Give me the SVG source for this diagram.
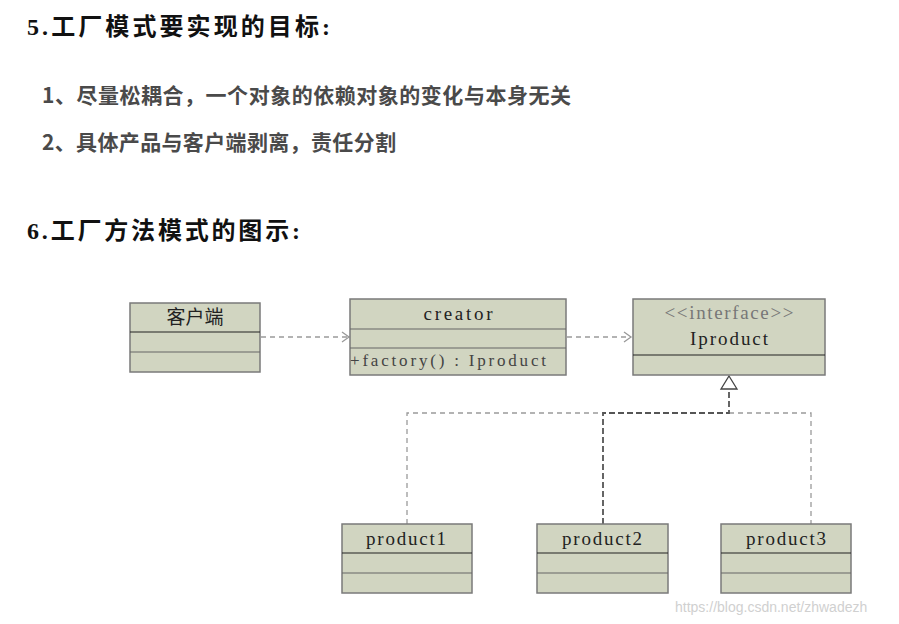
<svg xmlns="http://www.w3.org/2000/svg" width="899" height="624" viewBox="0 0 899 624">
<style>
.h{font-family:"Liberation Serif","Noto Sans CJK SC",serif;font-size:24px;font-weight:bold;fill:#111}
.p{font-family:"Noto Sans CJK SC",sans-serif;font-size:21px;font-weight:bold;fill:#4a4a4a}
.box{fill:#d1d5c1;stroke:#7a7a7a;stroke-width:1.5}
.d1{stroke:#222;stroke-width:1.2}
.d2{stroke:#666;stroke-width:1.2}
.t{font-family:"Liberation Serif","Noto Sans CJK SC",serif;font-size:19px;fill:#222;text-anchor:middle}
.c{font-family:"Noto Sans CJK SC",sans-serif;font-size:19px;fill:#222;text-anchor:middle}
.dash{fill:none;stroke:#9a9a9a;stroke-width:1.3;stroke-dasharray:5 4}
.dk{fill:none;stroke:#555;stroke-width:1.8;stroke-dasharray:6 3}
.wm{font-family:"Liberation Sans",Arial,sans-serif;font-size:14px;fill:#d0d0d0}
</style>
<defs>
<marker id="open" markerWidth="10" markerHeight="12" refX="8" refY="6" orient="auto" markerUnits="userSpaceOnUse">
<path d="M1,1 L8,6 L1,11" fill="none" stroke="#999" stroke-width="1.3"/>
</marker>
</defs>
<rect width="899" height="624" fill="#fff"/>
<text class="h" x="27" y="35" textLength="303" lengthAdjust="spacing">5.工厂模式要实现的目标:</text>
<text class="p" x="42" y="103" textLength="529" lengthAdjust="spacing">1、尽量松耦合，一个对象的依赖对象的变化与本身无关</text>
<text class="p" x="42" y="150" textLength="354" lengthAdjust="spacing">2、具体产品与客户端剥离，责任分割</text>
<text class="h" x="27" y="239" textLength="273" lengthAdjust="spacing">6.工厂方法模式的图示:</text>

<g id="connectors">
<line class="dash" x1="261" y1="337" x2="349" y2="337" marker-end="url(#open)"/>
<line class="dash" x1="567" y1="337" x2="631" y2="337" marker-end="url(#open)"/>
<polyline class="dash" points="407,524 407,413 603,413"/>
<polyline class="dash" points="729,413 811,413 811,524"/>
<polyline class="dk" points="603,524 603,413 729,413 729,389"/>
<path d="M729,376 L737,389 L721,389 Z" fill="#fff" stroke="#444" stroke-width="1.3"/>
</g>

<g id="client">
<rect class="box" x="130" y="303" width="130" height="69"/>
<line class="d1" x1="130" y1="332" x2="260" y2="332"/>
<line class="d2" x1="130" y1="352" x2="260" y2="352"/>
<text class="c" x="195" y="324">客户端</text>
</g>

<g id="creator">
<rect class="box" x="350" y="299" width="216" height="76"/>
<line class="d2" x1="350" y1="329" x2="566" y2="329"/>
<line class="d2" x1="350" y1="348" x2="566" y2="348"/>
<text class="t" x="458" y="320" textLength="69" lengthAdjust="spacing">creator</text>
<text class="t" x="350" y="366" style="text-anchor:start;font-size:17px;fill:#444" textLength="196" lengthAdjust="spacing">+factory() : Iproduct</text>
</g>

<g id="iproduct">
<rect class="box" x="633" y="299" width="192" height="76"/>
<line class="d1" x1="633" y1="355" x2="825" y2="355"/>
<text class="t" x="729" y="319" style="fill:#777" textLength="129" lengthAdjust="spacing">&lt;&lt;interface&gt;&gt;</text>
<text class="t" x="729" y="345" textLength="78" lengthAdjust="spacing">Iproduct</text>
</g>

<g id="product1">
<rect class="box" x="342" y="524" width="130" height="69"/>
<line class="d1" x1="342" y1="553" x2="472" y2="553"/>
<line class="d2" x1="342" y1="573" x2="472" y2="573"/>
<text class="t" x="406" y="545" textLength="80" lengthAdjust="spacing">product1</text>
</g>

<g id="product2">
<rect class="box" x="537" y="524" width="131" height="69"/>
<line class="d1" x1="537" y1="553" x2="668" y2="553"/>
<line class="d2" x1="537" y1="573" x2="668" y2="573"/>
<text class="t" x="602" y="545" textLength="80" lengthAdjust="spacing">product2</text>
</g>

<g id="product3">
<rect class="box" x="721" y="524" width="130" height="69"/>
<line class="d1" x1="721" y1="553" x2="851" y2="553"/>
<line class="d2" x1="721" y1="573" x2="851" y2="573"/>
<text class="t" x="786" y="545" textLength="80" lengthAdjust="spacing">product3</text>
</g>

<text class="wm" x="675" y="612">https://blog.csdn.net/zhwadezh</text>
</svg>
